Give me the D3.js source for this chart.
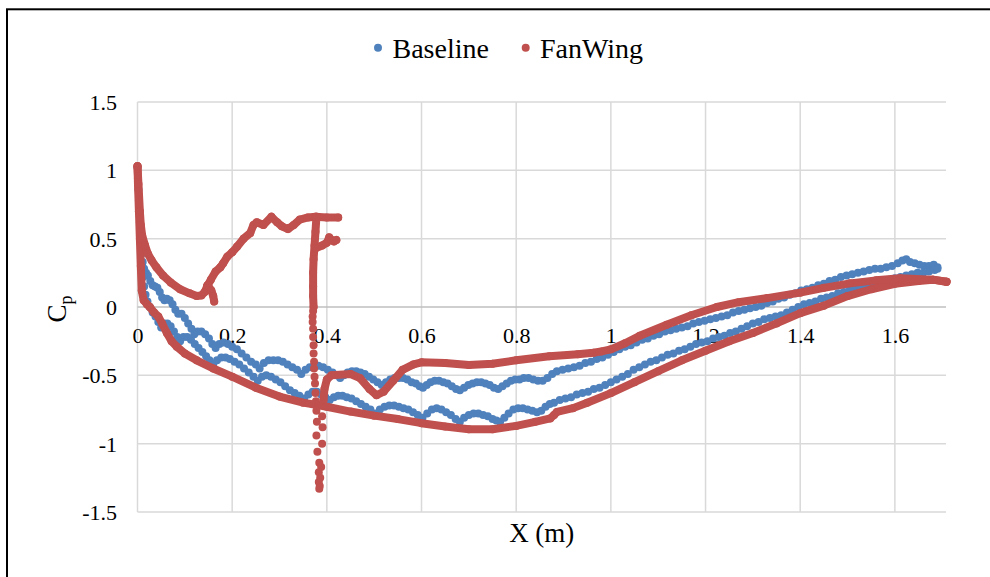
<!DOCTYPE html>
<html>
<head>
<meta charset="utf-8">
<script src="https://cdn.jsdelivr.net/npm/d3@7"></script>
<style>
  html, body { margin: 0; padding: 0; background: #fff; }
  svg text { font-family: "Liberation Serif", "Times New Roman", serif; fill: #000; }
</style>
</head>
<body>
<svg id="chart" width="990" height="577"></svg>
<script>
// ---- axis ticks ----
const xTicks = [0, 0.2, 0.4, 0.6, 0.8, 1, 1.2, 1.4, 1.6];
const yTicks = [-1.5, -1, -0.5, 0, 0.5, 1, 1.5];
const seriesNames = ["Baseline", "FanWing"];
const seriesColors = ["#4f81bd", "#c0504d"];

// ---- Baseline: pressure coefficient, surface branch with the weaker suction ----
const baselineUpper = [
  [0,1.02],[0.001,0.94],[0.002,0.86],[0.003,0.78],[0.004,0.70],[0.005,0.62],[0.006,0.54],[0.007,0.46],
  [0.009,0.39],[0.011,0.33],[0.014,0.28],[0.018,0.25],[0.022,0.23],[0.027,0.19],[0.032,0.16],[0.037,0.15],
  [0.042,0.14],[0.047,0.11],[0.052,0.07],[0.057,0.05],[0.062,0.06],[0.068,0.05],[0.074,0.02],[0.08,-0.02],
  [0.086,-0.05],[0.093,-0.05],[0.1,-0.08],[0.107,-0.12],[0.114,-0.16],[0.12,-0.20],[0.127,-0.18],[0.135,-0.18],
  [0.143,-0.20],[0.151,-0.23],[0.158,-0.27],[0.165,-0.30],[0.173,-0.27],[0.182,-0.26],[0.191,-0.27],[0.2,-0.29],
  [0.21,-0.31],[0.22,-0.34],[0.23,-0.37],[0.24,-0.40],[0.25,-0.42],[0.258,-0.45],[0.267,-0.41],[0.277,-0.39],
  [0.287,-0.39],[0.297,-0.39],[0.307,-0.40],[0.317,-0.42],[0.327,-0.44],[0.337,-0.46],[0.346,-0.49],[0.355,-0.46],
  [0.364,-0.44],[0.373,-0.43],[0.382,-0.43],[0.392,-0.44],[0.402,-0.46],[0.412,-0.48],[0.42,-0.50],[0.428,-0.52],
  [0.436,-0.50],[0.444,-0.48],[0.453,-0.47],[0.462,-0.47],[0.471,-0.48],[0.48,-0.49],[0.489,-0.51],[0.498,-0.53],
  [0.507,-0.55],[0.516,-0.57],[0.525,-0.55],[0.534,-0.53],[0.543,-0.52],[0.552,-0.52],[0.561,-0.52],[0.57,-0.53],
  [0.579,-0.55],[0.588,-0.56],[0.596,-0.58],[0.603,-0.59],[0.611,-0.57],[0.619,-0.55],[0.628,-0.54],[0.637,-0.54],
  [0.646,-0.55],[0.655,-0.56],[0.664,-0.58],[0.673,-0.60],[0.681,-0.61],[0.69,-0.59],[0.699,-0.57],[0.708,-0.56],
  [0.717,-0.55],[0.726,-0.55],[0.735,-0.56],[0.744,-0.57],[0.753,-0.59],[0.762,-0.60],[0.771,-0.58],[0.78,-0.56],
  [0.789,-0.54],[0.798,-0.53],[0.807,-0.53],[0.816,-0.52],[0.826,-0.52],[0.836,-0.53],[0.846,-0.54],[0.856,-0.54],
  [0.866,-0.52],[0.876,-0.49],[0.886,-0.47],[0.898,-0.46],[0.91,-0.45],[0.922,-0.44],[0.934,-0.43],[0.946,-0.41],
  [0.958,-0.40],[0.97,-0.38],[0.982,-0.37],[0.994,-0.35],[1.006,-0.33],[1.018,-0.31],[1.03,-0.29],[1.042,-0.28],
  [1.054,-0.26],[1.066,-0.24],[1.078,-0.23],[1.09,-0.21],[1.102,-0.20],[1.114,-0.18],[1.126,-0.17],[1.138,-0.16],
  [1.15,-0.15],[1.162,-0.14],[1.174,-0.12],[1.186,-0.11],[1.198,-0.10],[1.21,-0.09],[1.222,-0.08],[1.234,-0.07],
  [1.246,-0.06],[1.258,-0.04],[1.27,-0.03],[1.282,-0.02],[1.294,-0.01],[1.306,0.0],[1.318,0.01],[1.33,0.03],
  [1.342,0.04],[1.354,0.06],[1.366,0.07],[1.378,0.09],[1.39,0.10],[1.402,0.12],[1.414,0.13],[1.426,0.14],
  [1.438,0.16],[1.45,0.17],[1.462,0.19],[1.474,0.20],[1.486,0.22],[1.498,0.23],[1.51,0.24],[1.522,0.25],
  [1.534,0.26],[1.546,0.27],[1.558,0.28],[1.57,0.28],[1.582,0.29],[1.594,0.30],[1.606,0.32],[1.616,0.34],
  [1.624,0.35],[1.632,0.33],[1.642,0.32],[1.652,0.31],[1.662,0.30],[1.672,0.30],[1.682,0.31],[1.69,0.29]
];

// ---- Baseline: surface branch with the stronger suction ----
const baselineLower = [
  [0.010,0.30],[0.012,0.22],[0.014,0.15],[0.017,0.09],[0.021,0.04],[0.026,0.0],[0.032,-0.04],[0.038,-0.07],
  [0.044,-0.11],[0.05,-0.15],[0.056,-0.12],[0.063,-0.12],[0.07,-0.14],[0.077,-0.18],[0.084,-0.22],[0.09,-0.25],
  [0.097,-0.22],[0.105,-0.22],[0.113,-0.24],[0.121,-0.27],[0.129,-0.30],[0.137,-0.33],[0.145,-0.36],[0.152,-0.39],
  [0.16,-0.42],[0.168,-0.39],[0.177,-0.37],[0.186,-0.37],[0.195,-0.38],[0.205,-0.40],[0.215,-0.42],[0.225,-0.45],
  [0.235,-0.48],[0.245,-0.51],[0.254,-0.54],[0.263,-0.51],[0.272,-0.50],[0.282,-0.51],[0.292,-0.53],[0.302,-0.55],
  [0.312,-0.58],[0.322,-0.61],[0.332,-0.63],[0.342,-0.65],[0.352,-0.67],[0.361,-0.64],[0.37,-0.62],[0.379,-0.62],
  [0.388,-0.64],[0.397,-0.66],[0.406,-0.68],[0.415,-0.66],[0.424,-0.65],[0.433,-0.65],[0.442,-0.66],[0.452,-0.67],
  [0.462,-0.69],[0.472,-0.71],[0.482,-0.73],[0.492,-0.75],[0.502,-0.78],[0.512,-0.75],[0.522,-0.73],[0.532,-0.72],
  [0.542,-0.72],[0.552,-0.73],[0.562,-0.74],[0.572,-0.75],[0.582,-0.77],[0.592,-0.79],[0.602,-0.81],[0.612,-0.78],
  [0.622,-0.75],[0.632,-0.74],[0.642,-0.75],[0.652,-0.77],[0.662,-0.79],[0.672,-0.82],[0.681,-0.84],[0.69,-0.81],
  [0.7,-0.79],[0.71,-0.78],[0.72,-0.78],[0.73,-0.79],[0.74,-0.80],[0.75,-0.82],[0.758,-0.83],[0.766,-0.84],
  [0.775,-0.81],[0.784,-0.78],[0.794,-0.75],[0.804,-0.74],[0.814,-0.74],[0.824,-0.75],[0.834,-0.76],[0.844,-0.77],
  [0.853,-0.76],[0.862,-0.73],[0.871,-0.71],[0.88,-0.70],[0.892,-0.68],[0.904,-0.67],[0.916,-0.66],[0.928,-0.64],
  [0.94,-0.63],[0.952,-0.62],[0.964,-0.60],[0.976,-0.59],[0.988,-0.57],[1.0,-0.55],[1.012,-0.53],[1.024,-0.51],
  [1.036,-0.49],[1.048,-0.46],[1.06,-0.44],[1.072,-0.42],[1.084,-0.40],[1.096,-0.39],[1.108,-0.37],[1.12,-0.35],
  [1.132,-0.34],[1.144,-0.32],[1.156,-0.31],[1.168,-0.29],[1.18,-0.27],[1.192,-0.26],[1.204,-0.25],[1.216,-0.23],
  [1.228,-0.22],[1.24,-0.21],[1.252,-0.19],[1.264,-0.18],[1.276,-0.16],[1.288,-0.14],[1.3,-0.12],[1.312,-0.11],
  [1.324,-0.09],[1.336,-0.08],[1.348,-0.07],[1.36,-0.06],[1.372,-0.04],[1.384,-0.02],[1.396,0.0],[1.408,0.02],
  [1.42,0.03],[1.432,0.04],[1.444,0.06],[1.456,0.07],[1.468,0.08],[1.48,0.10],[1.492,0.11],[1.504,0.12],
  [1.516,0.13],[1.528,0.14],[1.54,0.15],[1.552,0.16],[1.564,0.18],[1.576,0.19],[1.588,0.20],[1.6,0.21],
  [1.612,0.22],[1.624,0.23],[1.636,0.24],[1.648,0.25],[1.66,0.25],[1.672,0.26],[1.684,0.27],[1.69,0.28]
];

// ---- FanWing: densely sampled surface paths ----
const fanwingLower = [
  [0,1.03],[0.001,0.9],[0.003,0.7],[0.005,0.5],[0.007,0.3],[0.009,0.12],[0.013,0.05],[0.02,0.02],[0.026,0.0],
  [0.035,-0.04],[0.044,-0.07],[0.052,-0.12],[0.062,-0.19],[0.072,-0.25],[0.083,-0.29],[0.1,-0.34],[0.125,-0.39],
  [0.16,-0.45],[0.2,-0.51],[0.25,-0.59],[0.3,-0.655],[0.35,-0.70],[0.4,-0.73],[0.45,-0.765],[0.5,-0.795],
  [0.55,-0.82],[0.6,-0.85],[0.65,-0.875],[0.7,-0.895],[0.75,-0.895],[0.8,-0.87],[0.84,-0.84],[0.872,-0.815],
  [0.88,-0.79],[0.886,-0.768],[0.92,-0.74],[0.95,-0.70],[1.0,-0.63],[1.05,-0.55],[1.1,-0.47],[1.15,-0.39],
  [1.2,-0.32],[1.25,-0.25],[1.3,-0.19],[1.35,-0.12],[1.4,-0.045],[1.45,0.01],[1.5,0.08],[1.55,0.13],
  [1.6,0.17],[1.65,0.19],[1.68,0.20],[1.709,0.185]
];
const fanwingUpperFront = [
  [0,1.03],[0.002,0.9],[0.005,0.7],[0.007,0.6],[0.01,0.52],[0.016,0.45],[0.022,0.39],[0.03,0.34],[0.04,0.29],
  [0.054,0.23],[0.07,0.18],[0.09,0.13],[0.11,0.10],[0.125,0.08],[0.135,0.085],[0.142,0.11],[0.147,0.15],
  [0.155,0.20],[0.165,0.26],[0.175,0.29],[0.181,0.32],[0.19,0.37],[0.2,0.40],[0.21,0.44],[0.224,0.50],
  [0.238,0.54],[0.245,0.60],[0.252,0.62],[0.266,0.60],[0.283,0.66],[0.295,0.62],[0.305,0.59],[0.318,0.57],
  [0.33,0.60],[0.343,0.64],[0.36,0.655],[0.376,0.66],[0.4,0.655],[0.424,0.655]
];
const fanwingHook = [[0.148,0.16],[0.156,0.12],[0.16,0.08],[0.162,0.04]];
const fanwingStrut = [
  [0.378,0.66],[0.376,0.55],[0.374,0.45],[0.372,0.35],[0.371,0.25],[0.371,0.15],[0.371,0.08],[0.372,0.0]
];
const fanwingTab = [[0.376,0.43],[0.39,0.45],[0.40,0.47],[0.405,0.51],[0.41,0.49],[0.415,0.48],[0.42,0.49]];
const fanwingUpperRear = [
  [0.393,-0.68],[0.395,-0.60],[0.40,-0.53],[0.41,-0.50],[0.45,-0.49],[0.47,-0.52],[0.49,-0.60],[0.505,-0.645],
  [0.52,-0.62],[0.54,-0.54],[0.56,-0.46],[0.583,-0.42],[0.6,-0.405],[0.65,-0.41],[0.7,-0.425],[0.75,-0.415],
  [0.8,-0.39],[0.87,-0.36],[0.93,-0.345],[0.963,-0.335],[0.98,-0.325],[1.0,-0.31],[1.03,-0.265],[1.061,-0.21],
  [1.118,-0.13],[1.17,-0.06],[1.224,0.0],[1.27,0.035],[1.33,0.065],[1.4,0.105],[1.45,0.14],[1.505,0.173],
  [1.56,0.195],[1.611,0.21],[1.68,0.20],[1.709,0.185]
];
// ---- FanWing: sparse samples below the rotor ----
const fanwingWake = [
  [0.371,-0.03],[0.370,-0.07],[0.370,-0.11],[0.371,-0.16],[0.371,-0.22],[0.372,-0.28],[0.372,-0.34],
  [0.373,-0.40],[0.373,-0.45],[0.374,-0.51],[0.375,-0.56],[0.376,-0.63],[0.377,-0.69],[0.378,-0.76],
  [0.390,-0.80],[0.379,-0.84],[0.391,-0.88],[0.378,-0.94],[0.390,-1.00],[0.380,-1.06],[0.384,-1.14],
  [0.388,-1.17],[0.383,-1.21],[0.386,-1.25],[0.383,-1.28],[0.385,-1.31],[0.384,-1.33]
];

// ---- layout ----
const svg = d3.select("#chart");
const serif = '"Liberation Serif", "Times New Roman", serif';
const plot = { left: 137.5, right: 946, top: 102, bottom: 512 };
const x = d3.scaleLinear().domain([0, 1.708]).range([plot.left, plot.right]);
const y = d3.scaleLinear().domain([-1.5, 1.5]).range([plot.bottom, plot.top]);

// outer frame
svg.append("rect").attr("x", 7).attr("y", 9.3).attr("width", 1000).attr("height", 600)
  .attr("fill", "none").attr("stroke", "#000").attr("stroke-width", 2);

// gridlines
const grid = svg.append("g");
grid.selectAll(".gx").data(xTicks).join("line")
  .attr("x1", d => x(d)).attr("x2", d => x(d)).attr("y1", plot.top).attr("y2", plot.bottom)
  .attr("stroke", "#d9d9d9").attr("stroke-width", 1.5);
grid.selectAll(".gy").data(yTicks.filter(v => v !== 0)).join("line")
  .attr("x1", plot.left).attr("x2", plot.right).attr("y1", d => y(d)).attr("y2", d => y(d))
  .attr("stroke", "#d9d9d9").attr("stroke-width", 1.5);
// horizontal axis line at Cp = 0
svg.append("line").attr("x1", plot.left).attr("x2", plot.right).attr("y1", y(0)).attr("y2", y(0))
  .attr("stroke", "#bfbfbf").attr("stroke-width", 1.5);

// axes (labels only)
const xAxis = svg.append("g").attr("transform", `translate(0,${y(0)})`)
  .call(d3.axisBottom(x).tickValues(xTicks).tickSize(0).tickFormat(d => String(d)))
  .attr("font-family", serif).attr("font-size", 22);
xAxis.select(".domain").remove();
xAxis.selectAll("text").attr("y", 35.5).attr("dy", null)
  .style("font-family", serif).style("font-size", "22px").attr("fill", "#000");

const yAxis = svg.append("g").attr("transform", `translate(${plot.left},0)`)
  .call(d3.axisLeft(y).tickValues(yTicks).tickSize(0).tickFormat(d => String(d)))
  .attr("font-family", serif).attr("font-size", 22);
yAxis.select(".domain").remove();
yAxis.selectAll("text").attr("x", -20.5).attr("dy", "0.34em")
  .style("font-family", serif).style("font-size", "22px").attr("fill", "#000");

// axis titles
svg.append("text").attr("x", (plot.left + plot.right) / 2).attr("y", 541.5)
  .attr("text-anchor", "middle").style("font-size", "27px").text("X (m)");
const yTitle = svg.append("text").attr("transform", "translate(66,309) rotate(-90)")
  .attr("text-anchor", "middle").style("font-size", "27px");
yTitle.append("tspan").text("C");
yTitle.append("tspan").attr("dy", 6).style("font-size", "18px").text("p");

// legend
const legend = svg.append("g");
const legendItems = [
  { name: seriesNames[0], color: seriesColors[0], cx: 378, tx: 392.5 },
  { name: seriesNames[1], color: seriesColors[1], cx: 525.7, tx: 540 }
];
legendItems.forEach(it => {
  legend.append("circle").attr("cx", it.cx).attr("cy", 47.7).attr("r", 4).attr("fill", it.color);
  legend.append("text").attr("x", it.tx).attr("y", 57.6).style("font-size", "28px").text(it.name);
});

// Baseline markers
const marks = svg.append("g");
[baselineUpper, baselineLower].forEach(series => {
  marks.append("g").selectAll("circle").data(series).join("circle")
    .attr("cx", d => x(d[0])).attr("cy", d => y(d[1])).attr("r", 4).attr("fill", seriesColors[0]);
});

// FanWing: dense marker chains rendered as thick round strokes, plus markers at samples
const line = d3.line().x(d => x(d[0])).y(d => y(d[1])).curve(d3.curveLinear);
[fanwingLower, fanwingUpperFront, fanwingHook, fanwingStrut, fanwingTab, fanwingUpperRear].forEach(series => {
  marks.append("path").datum(series).attr("d", line)
    .attr("fill", "none").attr("stroke", seriesColors[1]).attr("stroke-width", 8)
    .attr("stroke-linecap", "round").attr("stroke-linejoin", "round");
  marks.append("g").selectAll("circle").data(series).join("circle")
    .attr("cx", d => x(d[0])).attr("cy", d => y(d[1])).attr("r", 4).attr("fill", seriesColors[1]);
});
marks.append("g").selectAll("circle").data(fanwingWake).join("circle")
  .attr("cx", d => x(d[0])).attr("cy", d => y(d[1])).attr("r", 4).attr("fill", seriesColors[1]);
</script>
</body>
</html>
